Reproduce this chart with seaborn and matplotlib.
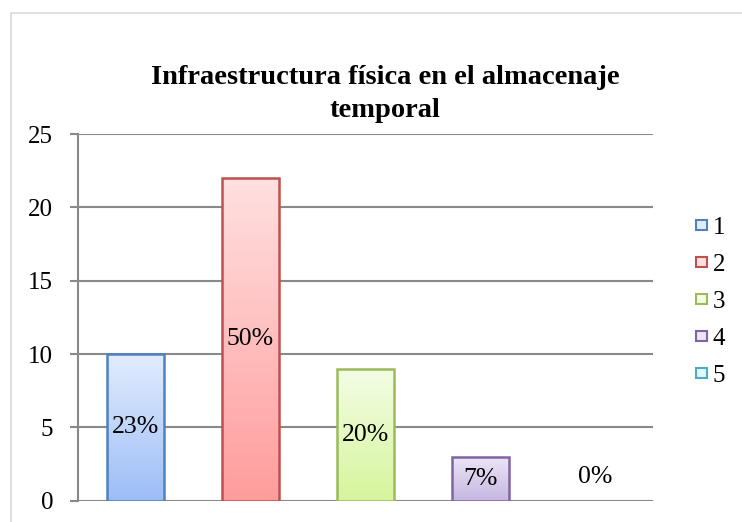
import matplotlib
matplotlib.use("Agg")
import matplotlib.pyplot as plt
import matplotlib.patches as mpatches
import matplotlib.colors as mcolors
import numpy as np
import pandas as pd
import seaborn as sns

categories = ["1", "2", "3", "4", "5"]
values = [10, 22, 9, 3, 0]
pct_labels = ["23%", "50%", "20%", "7%", "0%"]
title = "Infraestructura física en el almacenaje\ntemporal"
yticks = [0, 5, 10, 15, 20, 25]

edge_colors = ["#4f81bd", "#c0504d", "#9bbb59", "#8064a2", "#4bacc6"]
top_colors = ["#e2ecfd", "#ffe0e0", "#f4fde6", "#ece6f6", "#e4f7fc"]
bot_colors = ["#9dbdf7", "#ff9c9c", "#d6f59c", "#c6b6e2", "#b8e8f6"]

sns.set_theme(style="white")
plt.rcParams["font.family"] = ["Liberation Serif", "DejaVu Serif"]
plt.rcParams["text.color"] = "black"

fig = plt.figure(figsize=(7.42, 5.22), dpi=100)
ax = fig.add_axes([78/742, 1-500.7/522, (653-78)/742, (500.7-134)/522])

df = pd.DataFrame({"cat": categories, "val": values})
sns.barplot(data=df, x="cat", y="val", hue="cat", palette=top_colors,
            dodge=False, width=0.5, legend=False, ax=ax, saturation=1)

ax.set_ylim(0, 25)
ax.set_xlim(-0.5, 4.5)
ax.set_yticks(yticks)
ax.set_xticks([])
ax.set_xlabel("")
ax.set_ylabel("")
ax.yaxis.grid(True, color="#898989", linewidth=1.5)
ax.set_axisbelow(True)
for s in ["top", "right", "bottom"]:
    ax.spines[s].set_visible(False)
ax.spines["left"].set_color("#898989")
ax.spines["left"].set_linewidth(1.5)
ax.tick_params(axis="y", which="both", left=True, length=6, width=1.5,
               color="#898989", labelsize=18, labelcolor="black", pad=12)

# gradient fill
for i, bar in enumerate(ax.patches):
    x0 = bar.get_x(); w = bar.get_width(); h = bar.get_height()
    bar.set_edgecolor(edge_colors[i]); bar.set_linewidth(1.8)
    if h <= 0:
        bar.set_linewidth(0)
        bar.set_facecolor("none")
        continue
    cmap = mcolors.LinearSegmentedColormap.from_list("g", [bot_colors[i], top_colors[i]])
    grad = np.linspace(0, 1, 256).reshape(-1, 1)
    im = ax.imshow(grad, cmap=cmap, origin="lower", aspect="auto",
                   extent=[x0, x0 + w, 0, h], zorder=bar.get_zorder())
    im.set_clip_path(bar)
    bar.set_facecolor("none")
    bar.set_zorder(bar.get_zorder() + 0.1)
ax.set_xlim(-0.5, 4.5)
ax.set_ylim(0, 25)

for i, (v, lab) in enumerate(zip(values, pct_labels)):
    y = v / 2 if v > 0 else 1.6
    ax.text(i, y, lab, ha="center", va="center", fontsize=18.5, color="black", zorder=5)

fig.text(385/742, 1 - 94/522, title, ha="center", va="center", fontsize=20.5,
         fontweight="bold", linespacing=1.4, color="black")

handles = [mpatches.Patch(facecolor=top_colors[i], edgecolor=edge_colors[i],
                          linewidth=1.5, label=categories[i]) for i in range(5)]
fig.legend(handles=handles, loc="center left", bbox_to_anchor=(696/742, 1 - 302/522),
           frameon=False, fontsize=18, handlelength=0.42, handleheight=0.26,
           handletextpad=0.25, labelspacing=0.6, borderaxespad=0, borderpad=0,
           labelcolor="black")

fig.patches.append(mpatches.Rectangle((11/742, -0.1), 1.2, 0.1 + (1 - 13/522),
                   transform=fig.transFigure, fill=False, edgecolor="#d9d9d9",
                   linewidth=1.2))

fig.savefig("out.png", dpi=100)
